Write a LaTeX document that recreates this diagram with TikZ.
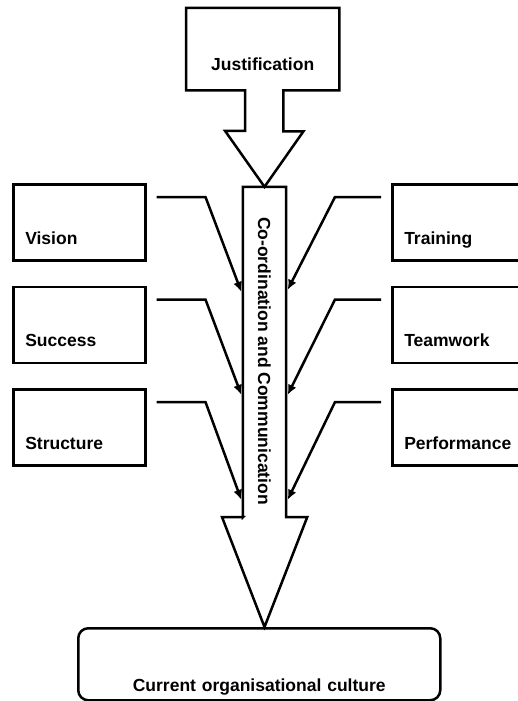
\documentclass[tikz,border=0pt]{standalone}
\usepackage{fontspec}
\setmainfont{Liberation Sans}
\usepackage{graphicx}
\usepackage{tikz}
\usetikzlibrary{arrows.meta, positioning, calc}
\tikzset{lbl/.style={font=\bfseries\fontsize{17.5}{20}\selectfont}}
\tikzset{factor/.style={lbl, rectangle, draw, line width=2.5pt, inner xsep=12pt, inner ysep=0pt, text height=60pt, text depth=16pt, align=left}}
\tikzset{feed/.style={line width=2.5pt, -{Latex[length=10pt, width=9pt]}}}
\tikzset{outline/.style={line width=2.5pt, line join=miter}}
\newcommand{\drop}{14pt}
\newcommand{\gap}{24pt}

\begin{document}
\begin{tikzpicture}[x=1pt, y=-1pt]

  \useasboundingbox (0,0) rectangle (518,701);

  % --- justification on top ---
  \node[lbl, anchor=north west, inner sep=0pt, text width=153pt, align=center, text height=62pt, text depth=20pt] (just) at (186,8) {Justification};

  % --- main column ---
  \node[lbl, minimum width=43pt, minimum height=330pt, inner sep=0pt] (col) at (264.5,352) {\rotatebox{-90}{\hspace*{18pt}Co-ordination and Communication}};

  % --- result ---
  \node[lbl, draw, line width=2.5pt, rounded corners=10pt, anchor=north west, inner sep=0pt, text width=362pt, align=center, text height=63pt, text depth=9pt] (culture) at (77,627) {Current organisational culture};

  \draw[outline] (just.south west) -- (just.north west) -- (just.north east) -- (just.south east)
                 -| ++(-56,41) -- ++(20,0) -- (col.north) -- ++(-39.5,-56) -- ++(20,0)
                 |- (just.south west) -- cycle;

  \draw[outline] (col.south west) -- (col.north west) -- (col.north east) -- (col.south east)
                 -- ++(21,0) -- (col.south |- culture.north) -- ++(-42.5,-110) -- ++(21,0) -- cycle;

  % --- left factors ---
  \node[factor, text width=108pt, anchor=north west] (vision) at (12,183) {Vision};
  \node[factor, text width=108pt, below=\gap of vision] (success) {Success};
  \node[factor, text width=108pt, below=\gap of success] (structure) {Structure};

  \draw[feed] ([xshift=10pt, yshift=-\drop]vision.north east) -- ++(49,0) -- ([xshift=-1.5pt, yshift=-105pt]col.north west);
  \draw[feed] ([xshift=10pt, yshift=-\drop]success.north east) -- ++(49,0) -- ([xshift=-1.5pt, yshift=-208pt]col.north west);
  \draw[feed] ([xshift=10pt, yshift=-\drop]structure.north east) -- ++(49,0) -- ([xshift=-1.5pt, yshift=-313pt]col.north west);

  % --- right factors ---
  \node[factor, text width=116pt, anchor=north west] (training) at (391,183) {Training};
  \node[factor, text width=116pt, below=\gap of training] (teamwork) {Teamwork};
  \node[factor, text width=116pt, below=\gap of teamwork] (performance) {Performance};

  \draw[feed] ([xshift=-10pt, yshift=-\drop]training.north west) -- ++(-46,0) -- ([xshift=1.5pt, yshift=-103pt]col.north east);
  \draw[feed] ([xshift=-10pt, yshift=-\drop]teamwork.north west) -- ++(-46,0) -- ([xshift=1.5pt, yshift=-208pt]col.north east);
  \draw[feed] ([xshift=-10pt, yshift=-\drop]performance.north west) -- ++(-46,0) -- ([xshift=1.5pt, yshift=-313pt]col.north east);

\end{tikzpicture}
\end{document}
